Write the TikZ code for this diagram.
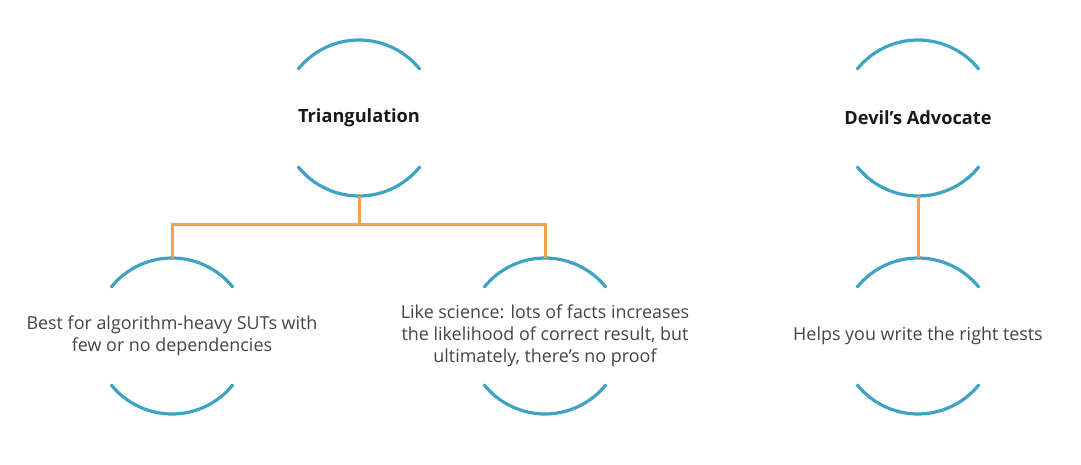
\documentclass[tikz,border=0pt]{standalone}
\usepackage{fontspec}
\setmainfont{Open Sans}
\usetikzlibrary{calc}
\definecolor{arcblue}{HTML}{3FA3C3}
\definecolor{linkorange}{HTML}{F5A04A}
\definecolor{bodygray}{HTML}{444444}
\tikzset{
  x=1pt,y=1pt,
  arcline/.style={draw=arcblue,line width=3.2pt,line cap=round},
  link/.style={draw=linkorange,line width=3pt},
  title/.style={font=\fontsize{18.2}{21}\selectfont\bfseries,text=black!90,inner sep=0pt},
  body/.style={font=\fontsize{17.9}{22}\selectfont,text=bodygray,align=center,inner sep=0pt},
}
\newcommand{\arcpair}[1]{%
  \draw[arcline] ($(#1)+(39:78)$) arc (39:141:78);
  \draw[arcline] ($(#1)+(219:78)$) arc (219:321:78);
  \coordinate (#1-top) at ($(#1)+(0,78)$);
  \coordinate (#1-bot) at ($(#1)+(0,-78)$);
}
\begin{document}
\begin{tikzpicture}
\useasboundingbox (0,0) rectangle (1081,464);
\node[title] (t) at (359,346) {Triangulation};
\node[title] (d) at (918,346) {Devil’s Advocate};
\node[body] (a) at (172,128) {Best for algorithm-heavy SUTs with\\few or no dependencies};
\node[body] (b) at (545,128) {Like science: lots of facts increases\\the likelihood of correct result, but\\ultimately, there’s no proof};
\node[body] (c) at (918,128) {Helps you write the right tests};
\arcpair{t}
\arcpair{d}
\arcpair{a}
\arcpair{b}
\arcpair{c}
\coordinate (j) at (359,239);
\draw[link] (t-bot) -- (j);
\draw[link] (j) -| (a-top);
\draw[link] (j) -| (b-top);
\draw[link] (d-bot) -- (c-top);
\end{tikzpicture}
\end{document}
